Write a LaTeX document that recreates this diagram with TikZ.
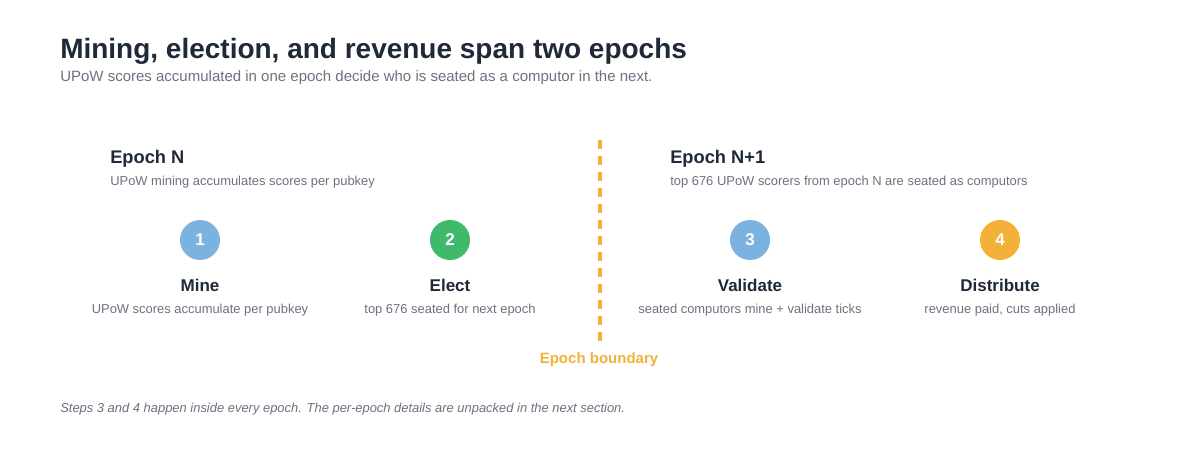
\documentclass[tikz,border=0pt]{standalone}
\usepackage{fontspec}
\setmainfont{Liberation Sans}
\usetikzlibrary{positioning}
\definecolor{ink}{HTML}{1F2937}
\definecolor{mute}{HTML}{6B7280}
\definecolor{stepblue}{HTML}{7BB2E0}
\definecolor{stepgreen}{HTML}{3EBA6A}
\definecolor{amber}{HTML}{F4B13A}

\tikzset{
  title/.style={anchor=base west, text=ink, inner sep=0pt, font=\fontsize{19.9}{24}\selectfont\bfseries},
  subtitle/.style={anchor=base west, text=mute, inner sep=0pt, font=\fontsize{10.67}{13}\selectfont},
  epochhead/.style={anchor=base west, text=ink, inner sep=0pt, font=\fontsize{13}{15}\selectfont\bfseries},
  epochnote/.style={anchor=base west, text=mute, inner sep=0pt, font=\fontsize{9.2}{11}\selectfont},
  stepdot/.style={circle, minimum size=1cm, inner sep=0pt, text=white, font=\fontsize{12.1}{14}\selectfont\bfseries},
  stepname/.style={anchor=base, text=ink, inner sep=0pt, font=\fontsize{12.1}{14}\selectfont\bfseries},
  stepnote/.style={anchor=base, text=mute, inner sep=0pt, font=\fontsize{9.2}{11}\selectfont},
  boundary/.style={amber, line width=2.2pt, dash pattern=on 6.4pt off 5pt}
}

\begin{document}
\begin{tikzpicture}[x=0.025cm, y=-0.025cm]
% page frame, 1200 x 460
\useasboundingbox[fill=white] (0,0) rectangle (1200,460);

% heading
\node[title] (head) at (60,58) {Mining, election, and revenue span two epochs};
\node[subtitle] (sub) at (60,81) {UPoW scores accumulated in one epoch decide who is seated as a computor in the next.};

% the two epochs
\node[epochhead] (epochN) at (110,163) {Epoch N};
\node[epochnote] (epochNnote) at (110,185) {UPoW mining accumulates scores per pubkey};
\node[epochhead] (epochM) at (670,163) {Epoch N+1};
\node[epochnote] (epochMnote) at (670,185) {top 676 UPoW scorers from epoch N are seated as computors};

% dashed boundary between them
\coordinate (bndtop) at (600,140);
\coordinate (bndbot) at (600,341);
\draw[boundary] (bndtop) -- (bndbot);
\node[anchor=base, text=amber, inner sep=0pt, font=\fontsize{10.67}{13}\selectfont\bfseries] (bndlabel) at (599,363) {Epoch boundary};

% the four steps
\foreach \x/\n/\col/\name/\desc in {200/1/stepblue/Mine/{UPoW scores accumulate per pubkey},
    450/2/stepgreen/Elect/{top 676 seated for next epoch},
    750/3/stepblue/Validate/{seated computors mine + validate ticks},
    1000/4/amber/Distribute/{revenue paid, cuts applied}} {
    \node[stepdot, fill=\col] (dot\n) at (\x,240) {\n};
    \node[stepname] (name\n) at (\x,291) {\name};
    \node[stepnote] (note\n) at (\x,313) {\desc};
}

% footer
\node[anchor=base west, text=mute, inner sep=0pt, font=\fontsize{9.2}{11}\selectfont\itshape] (foot) at (60,412) {Steps 3 and 4 happen inside every epoch. The per-epoch details are unpacked in the next section.};
\end{tikzpicture}
\end{document}
